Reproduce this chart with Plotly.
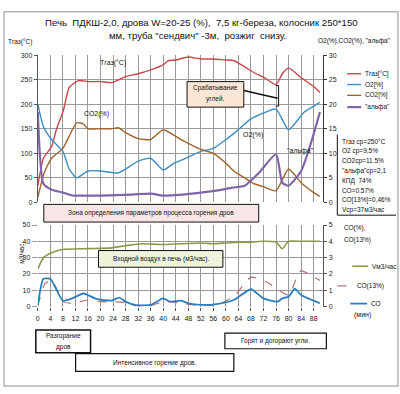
import plotly.graph_objects as go

W, H = 400, 394
def px(x): return x / W
def py(y): return 1 - y / H

# ---------------- data ----------------
t_tgas = [0, 1.8, 4.4, 6, 8.2, 10, 13, 16, 20, 23.5, 28, 32, 36, 40, 41.5, 44, 48, 52, 56, 60, 62.5, 66, 69, 72, 76, 78, 80, 84, 88, 90]
tgas   = [34, 90, 114, 150, 188, 234, 248, 246, 246, 244, 256, 262, 270, 280, 288, 290, 296, 292, 292, 290, 289, 276, 264, 255, 240, 262, 274, 254, 236, 224]

t_o2 = [0, 1.8, 4.4, 8, 10, 12.4, 16, 20, 25.5, 28, 32, 36, 40, 43.5, 48, 52, 56, 60, 62.5, 68, 72, 76, 80, 85, 88, 90]
o2   = [20, 15.4, 12.8, 10.4, 6.8, 5, 6.4, 6.4, 6, 6.8, 8.4, 9, 6.6, 8, 9.2, 10.4, 11, 12.8, 14, 17, 18.2, 19, 14.8, 18.4, 19.6, 20.4]

t_co2 = [0, 2, 4.4, 8, 10, 12.4, 14.5, 16, 20, 23.5, 25.7, 28, 32, 36, 40, 45.7, 52, 56, 60, 62.5, 66, 69, 72, 76, 80, 84, 88, 90]
co2   = [1, 6, 9, 11, 13.5, 16.2, 16, 15, 15, 15, 15.2, 14.2, 13, 12.8, 14.8, 12.8, 10.8, 10, 8, 6.4, 5, 3.8, 3.2, 2.4, 6.8, 4, 2, 1.2]

t_alpha = [0, 1.8, 4.4, 8, 11, 16, 20, 30, 36, 40, 46, 52, 57, 62, 66, 70.5, 76, 78, 80, 84, 87, 90]
alpha   = [18.4, 3.8, 2.6, 2, 1.4, 1.4, 1.4, 1.6, 1.8, 1.4, 1.6, 2, 2.4, 3, 3.4, 6, 9.8, 4, 3.4, 6.4, 11.8, 18.4]

t_v = [0, 1.8, 4.4, 8, 16, 23.5, 28, 33, 40, 52, 56, 60, 64, 68, 72, 76, 78, 80, 84, 88, 90]
v_air = [23, 30, 33, 35, 35.5, 36, 37.3, 38.5, 38, 39, 38.5, 39, 39.5, 39.5, 40, 39.5, 35.5, 40, 40, 40, 40]

t_co = [0, 1.8, 4, 5, 8, 11, 14.5, 16, 19, 23.5, 26, 28, 31, 36, 40, 42, 45.7, 48, 52, 57, 62.5, 68, 72, 76.5, 78, 80, 82, 84, 90]
co   = [0.06, 1.7, 1.7, 1.4, 0.36, 0.5, 0.8, 0.7, 0.45, 0.36, 0.55, 0.3, 0.1, 0.1, 0.5, 0.3, 0.36, 0.2, 0.1, 0.15, 0.4, 1.06, 0.5, 0.3, 0.5, 0.6, 1.1, 0.7, 0.2]

t_co13 = [0, 2.3, 4.4, 5.7, 8, 11, 16, 20, 28, 31, 36, 40, 46, 52, 57, 62.5, 68, 73, 80, 83, 84, 90]
co13   = [0.05, 1.4, 1.6, 1.2, 0.3, 0.2, 0.4, 0.3, 0.25, 0.06, 0.05, 0.3, 0.2, 0.05, 0.1, 0.6, 1.8, 1.5, 0.7, 2.0, 2.2, 1.6]

x_ticks = list(range(0, 89, 4))
stats_lines = ["Тгаз ср=250°С", "О2 ср=9,5%", "СО2ср=11.5%", "\"альфа\"ср=2,1",
               "КПД  74%", "СО=0.57%", "СО[13%]=0,46%", "Vср=37м3/час"]

C_RED, C_O2, C_CO2, C_AL = "#C8454A", "#3C8EC2", "#A2652C", "#8064A8"
C_V, C_CO13, C_CO = "#8A9948", "#B0706E", "#2C7FBF"

FONT = "Liberation Sans, Arial, sans-serif"
SM = 0.55

fig = go.Figure()
fig.add_trace(go.Scatter(x=t_tgas, y=tgas, mode="lines", line=dict(color=C_RED, width=1.4, shape="spline", smoothing=SM), xaxis="x", yaxis="y"))
fig.add_trace(go.Scatter(x=t_o2, y=o2, mode="lines", line=dict(color=C_O2, width=1.4, shape="spline", smoothing=SM), xaxis="x", yaxis="y2"))
fig.add_trace(go.Scatter(x=t_co2, y=co2, mode="lines", line=dict(color=C_CO2, width=1.4, shape="spline", smoothing=SM), xaxis="x", yaxis="y2"))
fig.add_trace(go.Scatter(x=t_alpha, y=alpha, mode="lines", line=dict(color=C_AL, width=2.2, shape="spline", smoothing=SM), xaxis="x", yaxis="y2"))
fig.add_trace(go.Scatter(x=t_v, y=v_air, mode="lines", line=dict(color=C_V, width=1.6, shape="spline", smoothing=SM), xaxis="x2", yaxis="y3"))
fig.add_trace(go.Scatter(x=t_co13, y=co13, mode="lines", line=dict(color=C_CO13, width=1.2, dash="dash", shape="spline", smoothing=SM), xaxis="x2", yaxis="y4"))
fig.add_trace(go.Scatter(x=t_co, y=co, mode="lines", line=dict(color=C_CO, width=1.8, shape="spline", smoothing=SM), xaxis="x2", yaxis="y4"))

xdom = [px(36), px(323)]
tickfont = dict(family=FONT, size=7, color="#222")
grid = "#9a9a9a"
common_x = dict(domain=xdom, range=[0, 91.1], tickvals=x_ticks, showgrid=True, gridcolor=grid, gridwidth=1,
                zeroline=False, showline=False, tickfont=tickfont)
fig.update_layout(
    width=W, height=H, margin=dict(l=0, r=0, t=0, b=0),
    paper_bgcolor="white", plot_bgcolor="white", showlegend=False,
    font=dict(family=FONT, size=7, color="#222"),
    xaxis=dict(common_x, anchor="y", showticklabels=False),
    yaxis=dict(domain=[py(202), py(52)], range=[0, 300], dtick=50, showgrid=True, gridcolor=grid,
               zeroline=False, showline=True, linecolor="#555", ticks="outside", ticklen=3, tickcolor="#555", tickfont=tickfont),
    yaxis2=dict(overlaying="y", side="right", anchor="x", range=[0, 30], dtick=5, showgrid=False, zeroline=False,
                showline=True, linecolor="#333", ticks="outside", ticklen=3, tickcolor="#333", tickfont=tickfont),
    xaxis2=dict(common_x, anchor="y3", showticklabels=True, ticks="outside", ticklen=3, tickcolor="#555", ticklabelstandoff=2),
    yaxis3=dict(domain=[py(308), py(225)], range=[0, 50], dtick=10, showgrid=True, gridcolor=grid,
                zeroline=False, showline=False, ticks="outside", ticklen=5, tickcolor=grid, tickfont=tickfont),
    yaxis4=dict(overlaying="y3", side="right", anchor="x2", range=[0, 5], dtick=1, showgrid=False, zeroline=False,
                showline=True, linecolor="#555", ticks="outside", ticklen=3, tickcolor="#555", tickfont=tickfont),
)

shapes = []
annos = []
def box(x0, y0, x1, y1, fill="white", lw=1):
    shapes.append(dict(type="rect", xref="paper", yref="paper", x0=px(x0), x1=px(x1), y0=py(y1), y1=py(y0),
                       line=dict(color="#111", width=lw), fillcolor=fill, layer="above"))
def text(x, y, s, size=7, anchor="left", **kw):
    annos.append(dict(xref="paper", yref="paper", x=px(x), y=py(y), text=s, showarrow=False,
                      xanchor=anchor, yanchor="middle", font=dict(family=FONT, size=size, color="#111"), **kw))
def line(x0, y0, x1, y1, color="#111", width=1, dash=None):
    d = dict(color=color, width=width)
    if dash: d["dash"] = dash
    shapes.append(dict(type="line", xref="paper", yref="paper", x0=px(x0), y0=py(y0), x1=px(x1), y1=py(y1), line=d, layer="above"))

# outer frame
shapes.append(dict(type="rect", xref="paper", yref="paper", x0=px(2), x1=px(398), y0=py(389), y1=py(8),
                   line=dict(color="#b5b5b5", width=1.5), fillcolor="rgba(0,0,0,0)", layer="below"))

# title
text(200, 19, "Печь  ПДКШ-2,0, дрова W=20-25 (%),  7,5 кг-береза, колосник 250*150", size=9.6, anchor="center")
text(196, 32, "мм, труба \"сендвич\" -3м,  розжиг  снизу.", size=9.6, anchor="center")
text(4, 39, "Тгаз(°С)", size=6.5)
text(393, 38, "О2(%),СО2(%), \"альфа\"", size=6.5, anchor="right")

# in-chart labels
text(112, 60, "Тгаз(°С)", anchor="center")
text(95, 112, "СО2(%)", anchor="center")
text(252, 133, "О2(%)", anchor="center")
text(300, 150, "\"альфа\"", anchor="center")

# Срабатывание углей
box(186, 79, 243, 105, fill="#FBE6D5")
text(214.5, 86, "Срабатывание", anchor="center", size=6.5)
text(214.5, 97, "углей.", anchor="center", size=6.5)
line(243, 88, 277, 96, width=1.5)
shapes.append(dict(type="path", xref="paper", yref="paper",
                   path=f"M {px(275)},{py(83)} L {px(278)},{py(83)} L {px(278)},{py(104)} L {px(275)},{py(104)}",
                   line=dict(color="#111", width=1), layer="above"))

# legend upper
leg = [("Тгаз[°С]", C_RED, 71, 1.4), ("О2[%]", C_O2, 82, 1.4), ("СО2[%]", C_CO2, 93, 1.4), ("\"альфа\"", C_AL, 105, 2.2)]
for s, c, y, w in leg:
    line(347, y, 361, y, color=c, width=w)
    text(363, y, s, size=6.5)

# stats box
line(337, 133, 337, 215, width=1)
line(337, 215, 396, 215, width=1)
for i, s in enumerate(stats_lines):
    text(340, 140 + i * 10, s, size=6.5)

# zone box
box(42, 204, 258, 222, fill="#F8E6E6")
text(150, 213, "Зона определения параметров процесса горения дров", anchor="center", size=6.5)

# air box
box(97, 251, 222, 268, fill="#EEF3DC")
text(159.5, 259.5, "Входной воздух в печь (м3/час).", anchor="center", size=6.5)

# lower axis titles
annos.append(dict(xref="paper", yref="paper", x=px(14), y=py(266), text="м3/час.", showarrow=False, textangle=-90,
                  font=dict(family=FONT, size=6.5, color="#111")))
text(342, 228, "СО(%),", size=6.5)
text(342, 240, "СО(13%)", size=6.5)

# lower legend
line(352, 267, 368, 267, color=C_V, width=1.6)
text(370, 267, "Vм3/час", size=6.5)
line(337, 287, 353, 287, color=C_CO13, width=1.2, dash="dash")
text(355, 287, "СО(13%)", size=6.5)
line(350, 305, 367, 305, color=C_CO, width=1.8)
text(369, 305, "СО", size=6.5)
text(352, 317, "(мин)", size=7)

# bottom boxes
box(34, 332, 89, 355, lw=1.5)
text(61.5, 338, "Разгорание", anchor="center", size=6.5)
text(61.5, 349, "дров", anchor="center", size=6.5)
box(74, 356, 233, 374, lw=1.2)
text(153.5, 365, "Интенсивное горение дров.", anchor="center", size=6.5)
box(224, 335, 326, 351, lw=1.2)
text(275, 343, "Горят и догорают угли.", anchor="center", size=6.5)

fig.update_layout(shapes=shapes, annotations=annos)
fig.write_html("out.html", config={"displayModeBar": False, "staticPlot": True},
               post_script="document.body.style.margin='0';document.body.style.overflow='hidden';")
